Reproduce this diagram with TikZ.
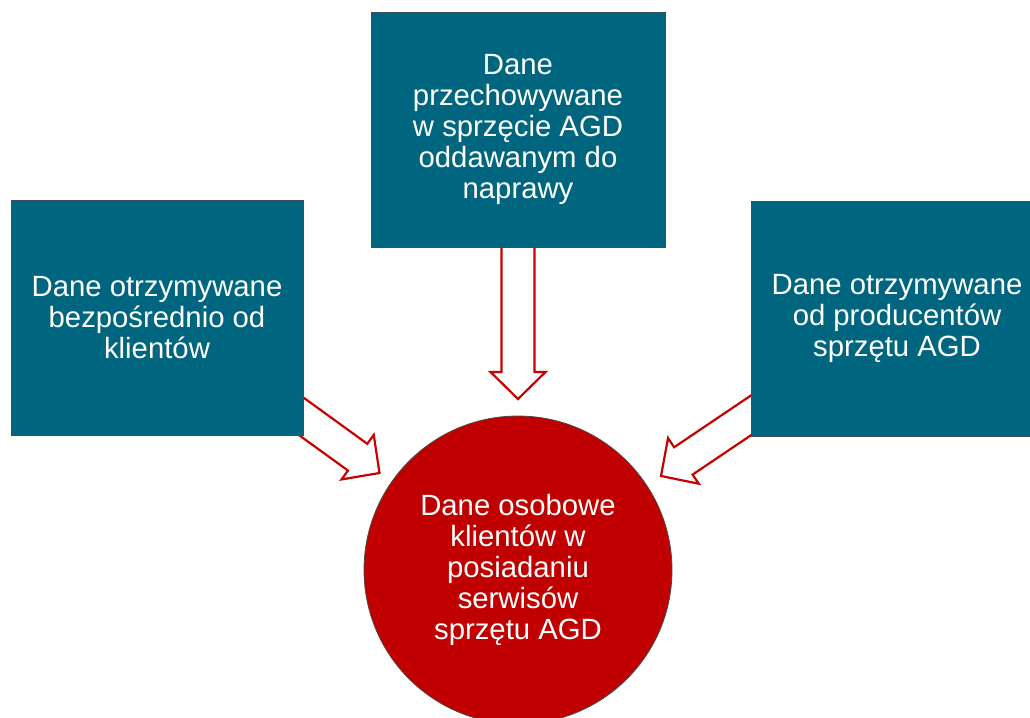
\documentclass[tikz,border=0pt]{standalone}
\usepackage{fontspec}
\setmainfont{Liberation Sans}
\usetikzlibrary{calc,backgrounds}
\definecolor{boxteal}{RGB}{0,102,128}
\definecolor{boxedge}{RGB}{60,80,90}
\definecolor{circred}{RGB}{192,0,0}
\definecolor{arrred}{RGB}{200,0,0}
\newcommand\blockarr[3]{%
  \coordinate (#3h) at ($(#2)!27pt!(#1)$);
  \draw[blockarrow]
    ($(#1)!16.5pt!90:(#2)$) -- ($(#3h)!16.5pt!-90:(#1)$) -- ($(#3h)!27.5pt!-90:(#1)$)
    -- (#2) -- ($(#3h)!27.5pt!90:(#1)$) -- ($(#3h)!16.5pt!90:(#1)$)
    -- ($(#1)!16.5pt!-90:(#2)$);
}
\begin{document}
\begin{tikzpicture}[x=1pt,y=-1pt,
  databox/.style={rectangle,fill=boxteal,draw=boxedge,line width=0.8pt,
    minimum height=235pt,inner sep=0pt,text=white,align=center,
    font=\fontsize{29.3}{31}\selectfont},
  core/.style={circle,fill=circred,draw=black!70,line width=0.8pt,
    minimum size=308pt,inner sep=0pt,text=white,align=center,
    font=\fontsize{29.3}{31}\selectfont},
  blockarrow/.style={draw=arrred,fill=white,line width=2.2pt,line join=miter}]
\useasboundingbox (0,0) rectangle (1030,717);
\clip (0,0) rectangle (1030,717);

\node[databox,minimum width=292pt] (L) at (157,317.5)
  {Dane otrzymywane\\bezpośrednio od\\klientów};
\node[databox,minimum width=294pt] (T) at (518,129.5)
  {Dane\\przechowywane\\w sprzęcie AGD\\oddawanym do\\naprawy};
\node[databox,minimum width=292pt] (R) at (897,318.5)
  {Dane otrzymywane\\od producentów\\sprzętu AGD};
\node[core] (C) at (518,570)
  {Dane osobowe\\klientów w\\posiadaniu\\serwisów\\sprzętu AGD};

\coordinate (ls) at ($(L.east)+(-13,91)$);
\coordinate (lt) at (379.5,473);
\coordinate (ts) at ($(T.south)+(0,-5)$);
\coordinate (tt) at (518,399);
\coordinate (rs) at ($(R.west)+(12,89)$);
\coordinate (rt) at (661,476);

\begin{scope}[on background layer]
\blockarr{ls}{lt}{la}
\blockarr{ts}{tt}{ta}
\blockarr{rs}{rt}{ra}
\end{scope}
\end{tikzpicture}
\end{document}
